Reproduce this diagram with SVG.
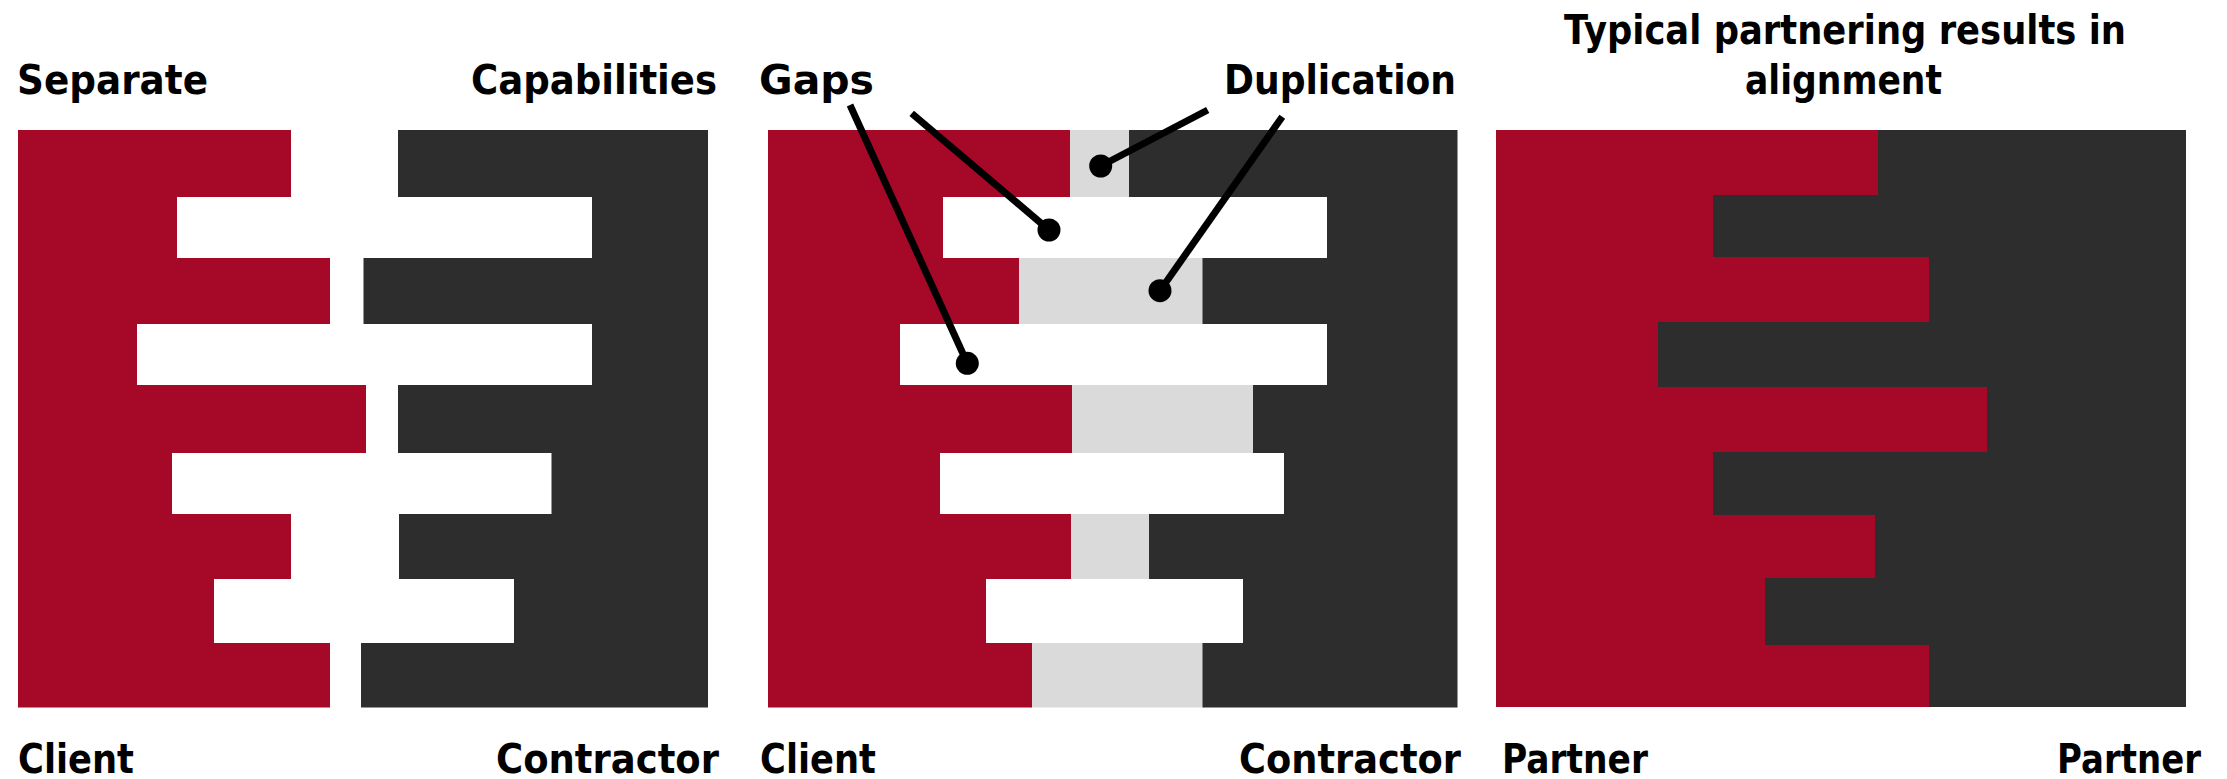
<svg xmlns="http://www.w3.org/2000/svg" width="2227" height="779" viewBox="0 0 2227 779">
  <style>
    .red { fill: #A60828; }
    .dark { fill: #2D2D2D; }
    .gray { fill: #DADADA; }
    .lbl { font-family: "DejaVu Sans", Verdana, sans-serif; font-weight: bold; font-size: 40px; fill: #000000; }
    .lead { stroke: #000000; stroke-width: 7; stroke-linecap: butt; fill: none; }
    .dot { fill: #000000; }
  </style>
  <rect x="0" y="0" width="2227" height="779" fill="#FFFFFF"/>

  <g id="panel-separate">
    <polygon class="red" points="18,130 291,130 291,197 177,197 177,258 330,258 330,324 137,324 137,385 366,385 366,453 172,453 172,514 291,514 291,579 214,579 214,643 330,643 330,707.5 18,707.5"/>
    <polygon class="dark" points="708,130 398,130 398,197 592,197 592,258 363.5,258 363.5,324 592,324 592,385 398,385 398,453 551.5,453 551.5,514 399,514 399,579 514,579 514,643 361,643 361,707.5 708,707.5"/>
    <text class="lbl" x="17" y="94" textLength="191" lengthAdjust="spacingAndGlyphs">Separate</text>
    <text class="lbl" x="471" y="94" textLength="246" lengthAdjust="spacingAndGlyphs">Capabilities</text>
    <text class="lbl" x="18" y="773" textLength="116" lengthAdjust="spacingAndGlyphs">Client</text>
    <text class="lbl" x="496" y="773" textLength="223" lengthAdjust="spacingAndGlyphs">Contractor</text>
  </g>

  <g id="panel-gaps-duplication">
    <rect class="gray" x="1068" y="130" width="63" height="67"/>
    <rect class="gray" x="1017" y="258" width="187" height="66"/>
    <rect class="gray" x="1070" y="385" width="185" height="68"/>
    <rect class="gray" x="1069" y="514" width="82" height="65"/>
    <rect class="gray" x="1030" y="643" width="174" height="64.5"/>
    <polygon class="red" points="768,130 1070,130 1070,197 943,197 943,258 1019,258 1019,324 900,324 900,385 1072,385 1072,453 940,453 940,514 1071,514 1071,579 986,579 986,643 1032,643 1032,707.5 768,707.5"/>
    <polygon class="dark" points="1457.5,130 1129,130 1129,197 1327,197 1327,258 1202.5,258 1202.5,324 1327,324 1327,385 1253,385 1253,453 1284,453 1284,514 1149,514 1149,579 1243,579 1243,643 1202.5,643 1202.5,707.5 1457.5,707.5"/>
    <text class="lbl" x="759" y="94" textLength="115" lengthAdjust="spacingAndGlyphs">Gaps</text>
    <text class="lbl" x="1224" y="94" textLength="232" lengthAdjust="spacingAndGlyphs">Duplication</text>
    <text class="lbl" x="760" y="773" textLength="116" lengthAdjust="spacingAndGlyphs">Client</text>
    <text class="lbl" x="1239" y="773" textLength="222" lengthAdjust="spacingAndGlyphs">Contractor</text>
  </g>

  <g id="panel-alignment">
    <rect class="dark" x="1496" y="130" width="690" height="577"/>
    <polygon class="red" points="1496,130 1878,130 1878,195 1713,195 1713,257 1929,257 1929,322 1658,322 1658,387 1987,387 1987,452 1713,452 1713,515 1875,515 1875,578 1765,578 1765,645 1929,645 1929,707 1496,707"/>
    <text class="lbl" x="1564" y="44" textLength="562" lengthAdjust="spacingAndGlyphs">Typical partnering results in</text>
    <text class="lbl" x="1745" y="94" textLength="197" lengthAdjust="spacingAndGlyphs">alignment</text>
    <text class="lbl" x="1502" y="773" textLength="146" lengthAdjust="spacingAndGlyphs">Partner</text>
    <text class="lbl" x="2057" y="773" textLength="144" lengthAdjust="spacingAndGlyphs">Partner</text>
  </g>

  <g id="connectors">
    <line class="lead" x1="850" y1="105" x2="967.3" y2="363.3"/>
    <circle class="dot" cx="967.3" cy="363.3" r="11.5"/>
    <line class="lead" x1="911.7" y1="113.3" x2="1049" y2="230"/>
    <circle class="dot" cx="1049" cy="230" r="11.5"/>
    <line class="lead" x1="1207.7" y1="110" x2="1100.7" y2="166"/>
    <circle class="dot" cx="1100.7" cy="166" r="11.5"/>
    <line class="lead" x1="1282.3" y1="116.7" x2="1160" y2="290.7"/>
    <circle class="dot" cx="1160" cy="290.7" r="11.5"/>
  </g>
</svg>
